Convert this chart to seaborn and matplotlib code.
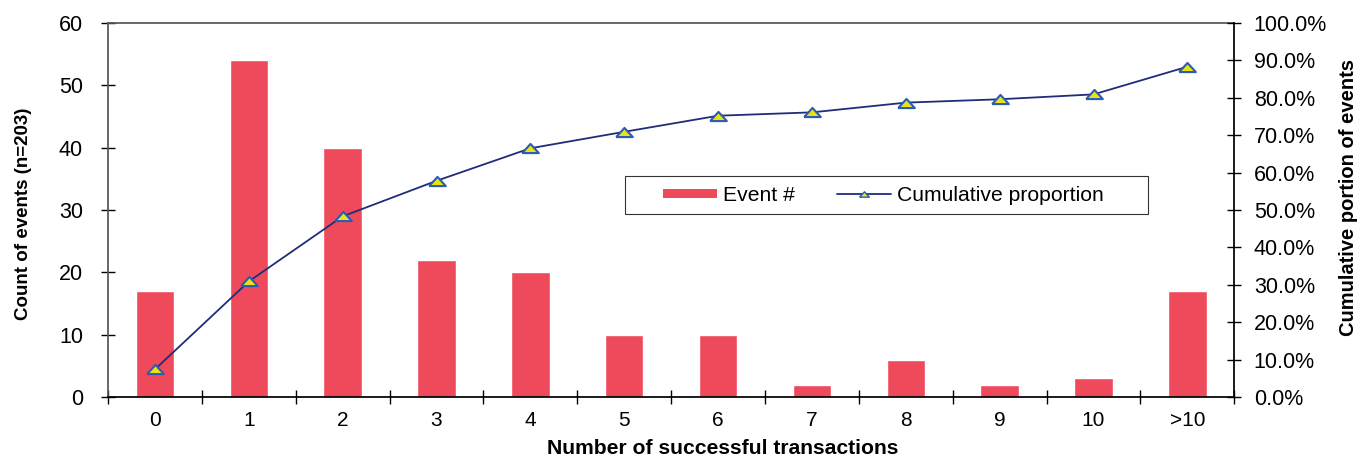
import numpy as np
import pandas as pd
import matplotlib.pyplot as plt
import seaborn as sns
from matplotlib.ticker import PercentFormatter, MultipleLocator
from matplotlib.lines import Line2D
from matplotlib.patches import Patch, Rectangle
from matplotlib.legend_handler import HandlerPatch, HandlerLine2D

categories = ['0', '1', '2', '3', '4', '5', '6', '7', '8', '9', '10', '>10']
event_counts = [17, 54, 40, 22, 20, 10, 10, 2, 6, 2, 3, 17]
cumulative_pct = [7.4, 30.9, 48.3, 57.8, 66.5, 70.9, 75.2, 76.1, 78.7, 79.6, 80.9, 88.3]

bar_color = '#EE4A5C'
line_color = '#1F2D7A'
marker_face = '#E8E21A'
marker_edge = '#2A5BB5'
# flattened triangle like the Excel marker
tri = [(-1, -0.55), (1, -0.55), (0, 0.55), (-1, -0.55)]

df = pd.DataFrame({'Transactions': categories, 'Events': event_counts, 'Cumulative': cumulative_pct})

sns.set_theme(style='white')
plt.rcParams['font.family'] = ['Liberation Sans', 'DejaVu Sans']
plt.rcParams['text.color'] = 'black'
plt.rcParams['axes.labelcolor'] = 'black'
plt.rcParams['xtick.color'] = 'black'
plt.rcParams['ytick.color'] = 'black'

fig = plt.figure(figsize=(13.71, 4.59), dpi=100)
ax1 = fig.add_axes([0.0788, 0.135, 0.8215, 0.815])

sns.barplot(data=df, x='Transactions', y='Events', color=bar_color, width=0.41,
            saturation=1, ax=ax1, order=categories)

ax2 = ax1.twinx()
sns.pointplot(data=df, x='Transactions', y='Cumulative', order=categories, ax=ax2,
              color=line_color, linewidth=1.3)
for ln in ax2.lines:
    ln.set_marker(tri)
    ln.set_markersize(12)
    ln.set_markerfacecolor(marker_face)
    ln.set_markeredgecolor(marker_edge)
    ln.set_markeredgewidth(1.5)

ax1.set_ylim(0, 60)
ax1.yaxis.set_major_locator(MultipleLocator(10))
ax1.set_xlim(-0.5, len(categories) - 0.5)
ax2.set_ylim(0, 100)
ax2.yaxis.set_major_locator(MultipleLocator(10))
ax2.yaxis.set_major_formatter(PercentFormatter(decimals=1))

ax1.set_xlabel('Number of successful transactions', fontsize=15.2, fontweight='bold')
ax1.xaxis.set_label_coords(0.546, -0.112)
ax1.set_ylabel('Count of events (n=203)', fontsize=13.5, fontweight='bold')
ax1.yaxis.set_label_coords(-0.0675, 0.49)
ax2.set_ylabel('Cumulative portion of events', fontsize=14.5, fontweight='bold')
ax2.yaxis.set_label_coords(1.093, 0.533)

# category ticks sit between bars, labels centred under bars
ax1.set_xticks([i - 0.5 for i in range(len(categories) + 1)], minor=False)
ax1.set_xticklabels([])
ax1.set_xticks(range(len(categories)), minor=True)
ax1.set_xticklabels(categories, minor=True, fontsize=15)
ax1.tick_params(axis='x', which='major', bottom=True, direction='inout', length=10, width=1)
ax1.tick_params(axis='x', which='minor', bottom=True, length=0, pad=10)
ax1.tick_params(axis='y', left=True, direction='inout', length=10, width=1, labelsize=15.5, pad=13)
ax2.tick_params(axis='y', right=True, direction='inout', length=10, width=1, labelsize=15.5, pad=9)

for ax in (ax1, ax2):
    for side in ('top', 'right', 'left', 'bottom'):
        ax.spines[side].set_visible(False)
ax1.spines['left'].set_visible(True)
ax1.spines['left'].set_color('#555555')
ax1.spines['bottom'].set_visible(True)
ax1.spines['bottom'].set_color('black')
ax1.spines['top'].set_visible(True)
ax1.spines['top'].set_color('#555555')
ax2.spines['right'].set_visible(True)
ax2.spines['right'].set_color('black')

# legend handles: draw the swatch in the right part of a wide handle box
SW = 39  # swatch width, points


def bar_swatch(legend, orig_handle, xdescent, ydescent, width, height, fontsize):
    x1 = -xdescent + width
    h = 6
    return Rectangle((x1 - SW, -ydescent + (height - h) / 2), SW, h)


class RightLine(HandlerLine2D):
    def get_xdata(self, legend, xdescent, ydescent, width, height, fontsize):
        x1 = -xdescent + width
        return np.array([x1 - SW, x1]), np.array([x1 - SW / 2])


h_bar = Patch(facecolor=bar_color, edgecolor='none')
h_line = Line2D([0], [0], color=line_color, lw=1.3, marker=tri, markersize=7,
                markerfacecolor=marker_face, markeredgecolor=marker_edge)
leg = ax2.legend([h_bar, h_line], ['Event #', 'Cumulative proportion' + ' ' * 6], ncol=2,
                 loc='center left', bbox_to_anchor=(0.4591, 0.5388), fontsize=15.2,
                 frameon=True, fancybox=False, edgecolor='black', handlelength=3.91,
                 handleheight=0.5, handletextpad=0.26, columnspacing=0.68, borderpad=0.45,
                 borderaxespad=0,
                 handler_map={h_bar: HandlerPatch(patch_func=bar_swatch),
                              h_line: RightLine()})
leg.get_frame().set_linewidth(0.8)

fig.savefig('out.png', dpi=100)
